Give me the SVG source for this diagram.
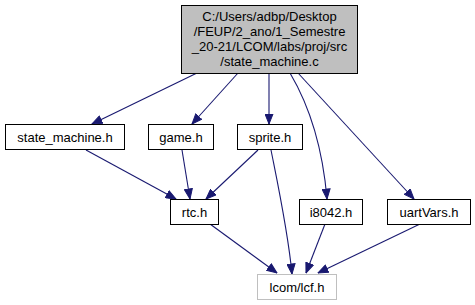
<svg xmlns="http://www.w3.org/2000/svg" width="475" height="305" viewBox="0 0 475 305">
  <style>
    .node rect { fill: #ffffff; stroke: #000000; stroke-width: 1; }
    .node.root rect { fill: #bfbfbf; }
    .node.ext rect { stroke: #bfbfbf; }
    .node text { font-family: "Liberation Sans", Arial, sans-serif; font-size: 13px; fill: #000000; text-anchor: middle; }
    .edge { fill: none; stroke: #191970; stroke-width: 1.1; marker-end: url(#head); }
  </style>
  <defs>
    <marker id="head" markerWidth="11" markerHeight="9" refX="10.5" refY="4.5" orient="auto" markerUnits="userSpaceOnUse">
      <path d="M0.5,0.5 L10.5,4.5 L0.5,8.5 z" fill="#191970" stroke="#191970" stroke-width="1"/>
    </marker>
  </defs>
  <rect width="475" height="305" fill="#ffffff"/>

  <!-- include dependencies -->
  <g id="edges">
    <path class="edge" d="M197,73 L92,124"/>
    <path class="edge" d="M238,73 L192,124"/>
    <path class="edge" d="M269,73 L269,124"/>
    <path class="edge" d="M290,73 C306,100 322,140 327,199"/>
    <path class="edge" d="M298,73 L414,199"/>
    <path class="edge" d="M86,150 L176,199"/>
    <path class="edge" d="M182,150 L190,199"/>
    <path class="edge" d="M258,150 L206,199"/>
    <path class="edge" d="M271,150 C279,190 288,232 292,274"/>
    <path class="edge" d="M210,224 L277,273"/>
    <path class="edge" d="M325,224 L306,273"/>
    <path class="edge" d="M420,224 L318,273"/>
  </g>

  <g id="node-state_machine_c" class="node root">
    <rect x="181.5" y="5.5" width="176" height="68"/>
    <text x="269.5" y="21">C:/Users/adbp/Desktop</text>
    <text x="269.5" y="36">/FEUP/2_ano/1_Semestre</text>
    <text x="269.5" y="51">_20-21/LCOM/labs/proj/src</text>
    <text x="269.5" y="66">/state_machine.c</text>
  </g>
  <g id="node-state_machine_h" class="node">
    <rect x="5.5" y="124.5" width="119" height="25"/>
    <text x="65" y="141.5">state_machine.h</text>
  </g>
  <g id="node-game_h" class="node">
    <rect x="148.5" y="124.5" width="65" height="25"/>
    <text x="181" y="141.5">game.h</text>
  </g>
  <g id="node-sprite_h" class="node">
    <rect x="237.5" y="124.5" width="65" height="25"/>
    <text x="270" y="141.5">sprite.h</text>
  </g>
  <g id="node-rtc_h" class="node">
    <rect x="170.5" y="199.5" width="48" height="25"/>
    <text x="194.5" y="216.5">rtc.h</text>
  </g>
  <g id="node-i8042_h" class="node">
    <rect x="299.5" y="199.5" width="63" height="25"/>
    <text x="331" y="216.5">i8042.h</text>
  </g>
  <g id="node-uartVars_h" class="node">
    <rect x="387.5" y="199.5" width="83" height="25"/>
    <text x="429" y="216.5">uartVars.h</text>
  </g>
  <g id="node-lcf_h" class="node ext">
    <rect x="257.5" y="274.5" width="79" height="25"/>
    <text x="297" y="291.5">lcom/lcf.h</text>
  </g>
</svg>
